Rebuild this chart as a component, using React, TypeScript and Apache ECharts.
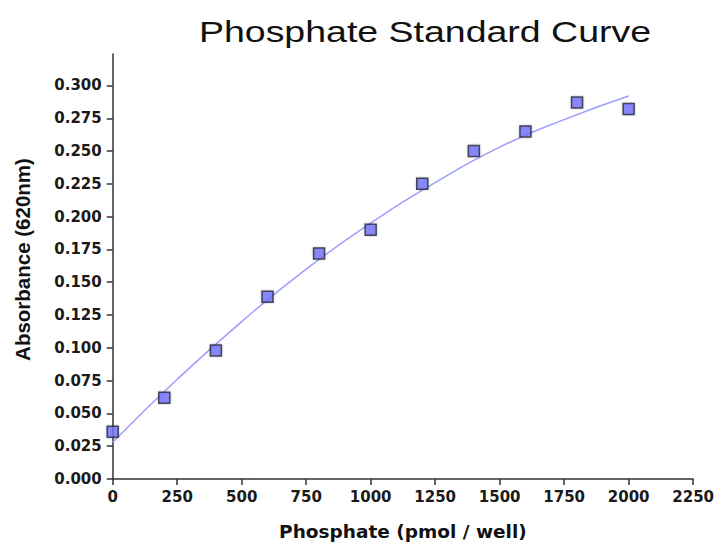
import React, { useEffect, useRef } from "react";
import * as echarts from "echarts";

const pointX = [0, 200, 400, 600, 800, 1000, 1200, 1400, 1600, 1800, 2000];
const pointY = [0.036, 0.062, 0.098, 0.139, 0.172, 0.19, 0.225, 0.25, 0.265, 0.287, 0.282];
const curveX = [0, 250, 500, 750, 1000, 1250, 1500, 1750, 2000];
const curveY = [0.028, 0.076, 0.12, 0.16, 0.195, 0.226, 0.253, 0.274, 0.292];
const yTicks = [0, 0.025, 0.05, 0.075, 0.1, 0.125, 0.15, 0.175, 0.2, 0.225, 0.25, 0.275, 0.3];

const ARIAL = "'Liberation Sans', Arial, sans-serif";
const DEJAVU = "'DejaVu Sans', sans-serif";

export default function App() {
  const ref = useRef<HTMLDivElement>(null);
  useEffect(() => {
    document.body.style.margin = "0";
    const chart = echarts.init(ref.current!, null, { renderer: "svg" });
    chart.setOption({
      animation: false,
      backgroundColor: "#ffffff",
      graphic: [
        {
          type: "text",
          x: 425,
          y: 31,
          scaleX: 1.25,
          style: {
            text: "Phosphate Standard Curve",
            x: 0,
            y: 0,
            textAlign: "center",
            textVerticalAlign: "middle",
            font: `normal 30px ${ARIAL}`,
            fill: "#111",
          },
        },
      ],
      grid: { left: 112.7, right: 23, top: 54, bottom: 64.3 },
      xAxis: {
        type: "value",
        min: 0,
        max: 2250,
        interval: 250,
        name: "Phosphate (pmol / well)",
        nameLocation: "middle",
        nameGap: 43,
        nameTextStyle: { fontFamily: DEJAVU, fontSize: 18.5, fontWeight: "bold", color: "#111" },
        axisLine: { lineStyle: { color: "#333", width: 1.5 } },
        axisTick: { show: true, length: 6, inside: false, lineStyle: { color: "#333", width: 1.5 } },
        axisLabel: {
          fontFamily: DEJAVU,
          fontSize: 15,
          fontWeight: "bold",
          color: "#1a1a1a",
          margin: 10,
          formatter: (v: number) => String(v),
        },
        splitLine: { show: false },
      },
      yAxis: {
        type: "value",
        min: 0,
        max: 0.324,
        name: "Absorbance (620nm)",
        nameLocation: "middle",
        nameGap: 80,
        nameRotate: 90,
        nameTextStyle: {
          fontFamily: ARIAL,
          fontSize: 20.5,
          fontWeight: "bold",
          color: "#111",
          padding: [0, 0, 0, 14],
        },
        axisLine: { show: true, lineStyle: { color: "#333", width: 1.5 } },
        axisTick: { show: true, length: 6, customValues: yTicks, lineStyle: { color: "#333", width: 1.5 } },
        axisLabel: {
          customValues: yTicks,
          fontFamily: DEJAVU,
          fontSize: 15,
          fontWeight: "bold",
          color: "#1a1a1a",
          margin: 11,
          formatter: (v: number) => v.toFixed(3),
        },
        splitLine: { show: false },
      },
      series: [
        {
          type: "line",
          data: curveX.map((x, i) => [x, curveY[i]]),
          smooth: true,
          showSymbol: false,
          lineStyle: { color: "#9d9dff", width: 1.5 },
          z: 1,
        },
        {
          type: "scatter",
          data: pointX.map((x, i) => [x, pointY[i]]),
          symbol: "rect",
          symbolSize: 11,
          itemStyle: {
            color: "#7474ff",
            borderColor: "#2a2a3a",
            borderWidth: 1.5,
            shadowColor: "rgba(0,0,0,0.3)",
            shadowBlur: 2,
          },
          z: 2,
        },
      ],
    });
    return () => chart.dispose();
  }, []);
  return <div ref={ref} style={{ width: 717, height: 546 }} />;
}
